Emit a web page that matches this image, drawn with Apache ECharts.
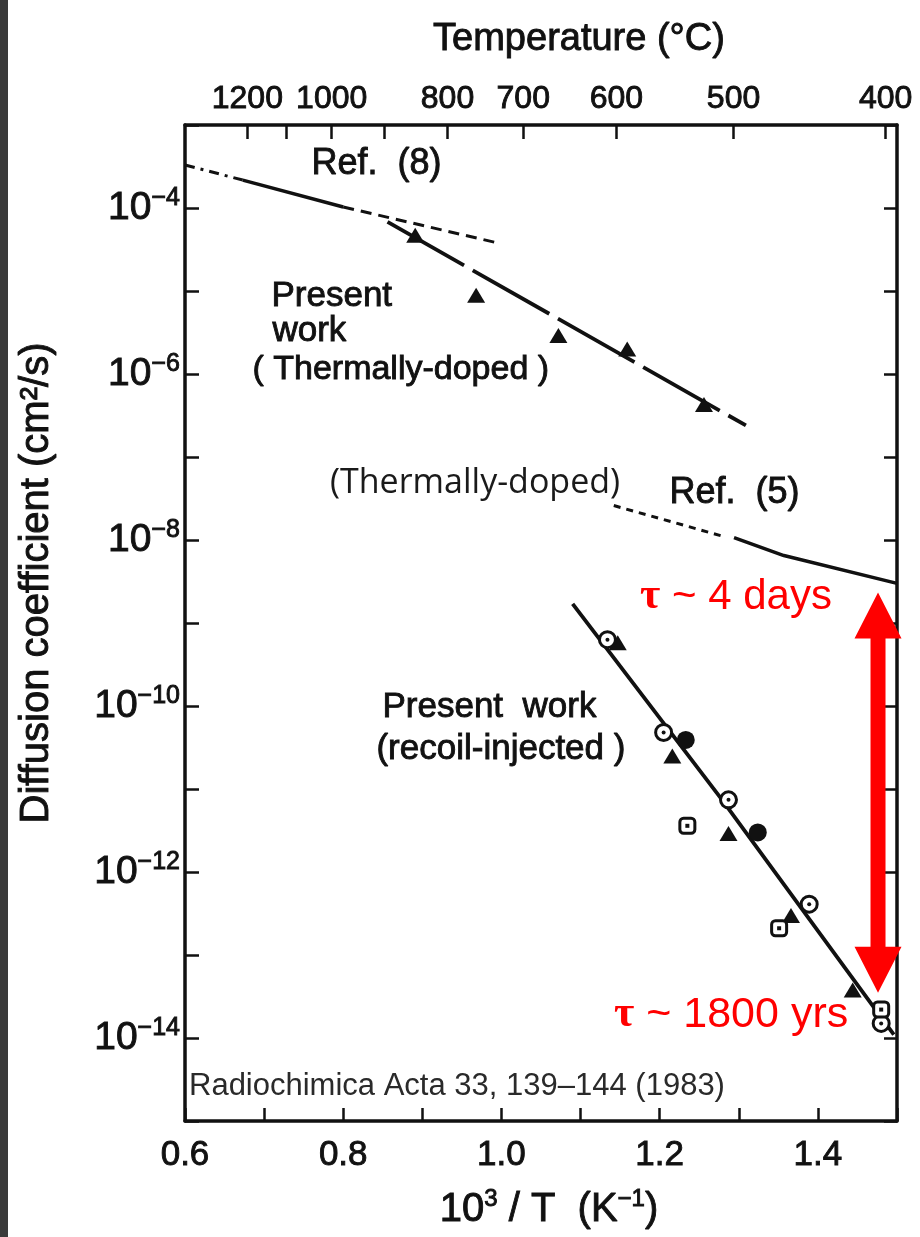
<!DOCTYPE html>
<html>
<head>
<meta charset="utf-8">
<script src="https://cdn.jsdelivr.net/npm/echarts@6/dist/echarts.min.js"></script>
<style>
  html, body { margin: 0; padding: 0; background: #ffffff; }
  #chart { width: 920px; height: 1237px; }
</style>
</head>
<body>
<div id="chart"></div>
<script>
// ---- axis ticks and labels ----
const tempTicks = [1200, 1100, 1000, 900, 800, 700, 600, 500, 400];   // °C, top axis ticks
const tempLabels = [1200, 1000, 800, 700, 600, 500, 400];             // °C, top axis labels
const invTLabels = [0.6, 0.8, 1.0, 1.2, 1.4];                          // 10^3/T labels
const decadeTicks = [1e-15, 1e-14, 1e-13, 1e-12, 1e-11, 1e-10, 1e-9, 1e-8, 1e-7, 1e-6, 1e-5, 1e-4, 1e-3];
const decadeLabels = [1e-14, 1e-12, 1e-10, 1e-8, 1e-6, 1e-4];

// ---- Ref. (8) ----
const ref8DashDot = [[0.600, 3.3e-4], [0.673, 2.17e-4]];
const ref8Solid = [[0.673, 2.17e-4], [0.800, 1.03e-4]];
const ref8Dashed = [[0.800, 1.03e-4], [0.995, 3.8e-5]];

// ---- present work, thermally-doped ----
const thermalLine = [[0.856, 6.8e-5], [1.309, 2.4e-7]];
const thermalPoints = [[0.891, 4.7e-5], [0.968, 8.9e-6], [1.072, 2.9e-6], [1.159, 2.0e-6], [1.256, 4.3e-7]];

// ---- Ref. (5) ----
const ref5Dotted = [[1.142, 2.6e-8], [1.277, 1.13e-8]];
const ref5Solid = [[1.294, 1.07e-8], [1.357, 6.5e-9], [1.500, 3.0e-9]];

// ---- present work, recoil-injected ----
const recoilLine = [[1.090, 1.7e-9], [1.277, 7.8e-12], [1.496, 1.1e-14]];
const recoilCircleDot = [[1.134, 6.3e-10], [1.205, 4.8e-11], [1.287, 7.4e-12], [1.389, 4.1e-13], [1.480, 1.5e-14]];
const recoilFilledCircle = [[1.233, 3.9e-11], [1.324, 3.0e-12]];
const recoilTriangle = [[1.147, 5.8e-10], [1.216, 2.5e-11], [1.287, 2.9e-12], [1.366, 3.0e-13], [1.444, 3.8e-14]];
const recoilSquareDot = [[1.235, 3.6e-12], [1.351, 2.1e-13], [1.480, 2.2e-14]];

// ---- residence-time span (x, upper D, lower D) ----
const tauSpan = [[1.476, 2.33e-9, 3.5e-14]];

const FONT_SANS = '"Liberation Sans", Arial, sans-serif';
const INK = '#111111';
// a thin outline in the ink colour gives the printed lettering its heavier stroke
const HEAVY = { textBorderColor: INK, textBorderWidth: 0.9 };

const toInv = t => 1000 / (t + 273.15);

const chart = echarts.init(document.getElementById('chart'), null, { renderer: 'canvas' });

const lineBase = { type: 'line', symbol: 'none', showSymbol: false, silent: true, z: 2, animation: false };
const markStyle = { color: INK, opacity: 1 };
const noteStyle = (text, size) => Object.assign({ text: text, font: size + 'px ' + FONT_SANS, fill: INK, stroke: INK, lineWidth: 0.9 });

chart.setOption({
  animation: false,
  backgroundColor: '#ffffff',
  textStyle: { fontFamily: FONT_SANS, color: INK },
  grid: { left: 185, right: 23, top: 125, bottom: 116, containLabel: false, outerBoundsMode: 'none' },
  xAxis: [
    {
      type: 'value', position: 'bottom', min: 0.6, max: 1.5, interval: 0.1,
      axisLine: { show: true, onZero: false, lineStyle: { color: INK, width: 3.5 } },
      axisTick: { show: true, inside: true, length: 13, lineStyle: { color: INK, width: 2.5 } },
      axisLabel: Object.assign({
        customValues: invTLabels, margin: 17, hideOverlap: false,
        formatter: v => v.toFixed(1),
        fontFamily: FONT_SANS, fontSize: 35, color: INK
      }, HEAVY),
      splitLine: { show: false },
      name: '{n|10}{s|3}{n| / T  (K}{s|−1}{n|)}',
      nameLocation: 'middle', nameGap: 66, nameMoveOverlap: false,
      nameTextStyle: {
        padding: [0, 0, 0, 16],
        rich: {
          n: Object.assign({ fontFamily: FONT_SANS, fontSize: 40, color: INK, lineHeight: 46 }, HEAVY),
          s: Object.assign({ fontFamily: FONT_SANS, fontSize: 24, color: INK, verticalAlign: 'top' }, HEAVY)
        }
      }
    },
    {
      type: 'value', position: 'top', min: 0.6, max: 1.5,
      axisLine: { show: true, onZero: false, lineStyle: { color: INK, width: 3.5 } },
      axisTick: { show: true, inside: true, length: 14, customValues: tempTicks.map(toInv), lineStyle: { color: INK, width: 2.5 } },
      axisLabel: Object.assign({
        customValues: tempLabels.map(toInv), margin: 10, hideOverlap: false,
        formatter: v => String(Math.round(1000 / v - 273.15)),
        fontFamily: FONT_SANS, fontSize: 32, color: INK
      }, HEAVY),
      splitLine: { show: false },
      name: 'Temperature (°C)',
      nameLocation: 'middle', nameGap: 66, nameMoveOverlap: false,
      nameTextStyle: Object.assign({ fontFamily: FONT_SANS, fontSize: 38, color: INK, padding: [0, 0, 0, 76] }, HEAVY)
    }
  ],
  yAxis: [
    {
      type: 'log', logBase: 10, position: 'left', min: 1e-15, max: 1e-3,
      axisLine: { show: true, onZero: false, lineStyle: { color: INK, width: 3.5 } },
      axisTick: { show: true, inside: true, length: 14, customValues: decadeTicks, lineStyle: { color: INK, width: 2.5 } },
      axisLabel: {
        customValues: decadeLabels, margin: 5, hideOverlap: false,
        formatter: v => '{b|10}{s|−' + Math.round(-Math.log10(v)) + '}',
        rich: {
          b: Object.assign({ fontFamily: FONT_SANS, fontSize: 39, color: INK, lineHeight: 44 }, HEAVY),
          s: Object.assign({ fontFamily: FONT_SANS, fontSize: 25, color: INK, verticalAlign: 'top' }, HEAVY)
        }
      },
      minorTick: { show: false },
      splitLine: { show: false },
      name: 'Diffusion coefficient (cm²/s)',
      nameLocation: 'middle', nameGap: 128, nameRotate: 90, nameMoveOverlap: false,
      nameTextStyle: Object.assign({ fontFamily: FONT_SANS, fontSize: 40, color: INK, padding: [0, 0, 0, 80] }, HEAVY)
    },
    {
      type: 'log', logBase: 10, position: 'right', min: 1e-15, max: 1e-3,
      axisLine: { show: true, onZero: false, lineStyle: { color: INK, width: 3.5 } },
      axisTick: { show: true, inside: true, length: 13, customValues: decadeTicks, lineStyle: { color: INK, width: 2.5 } },
      axisLabel: { show: false },
      minorTick: { show: false },
      splitLine: { show: false }
    }
  ],
  series: [
    // Ref. (8)
    Object.assign({}, lineBase, { name: 'Ref. (8) a', data: ref8DashDot, lineStyle: { color: INK, width: 3, type: [10, 6, 3, 6] } }),
    Object.assign({}, lineBase, { name: 'Ref. (8) b', data: ref8Solid, lineStyle: { color: INK, width: 3.5, type: 'solid' } }),
    Object.assign({}, lineBase, { name: 'Ref. (8) c', data: ref8Dashed, lineStyle: { color: INK, width: 3, type: [11, 7] } }),
    // thermally-doped
    Object.assign({}, lineBase, { name: 'Thermally-doped fit', data: thermalLine, lineStyle: { color: INK, width: 3.8, type: [88, 10] } }),
    {
      type: 'scatter', name: 'Thermally-doped', data: thermalPoints, symbol: 'triangle', symbolSize: [18, 15],
      itemStyle: markStyle, z: 4, silent: true
    },
    // Ref. (5)
    Object.assign({}, lineBase, { name: 'Ref. (5) a', data: ref5Dotted, lineStyle: { color: INK, width: 3, type: [7, 6] } }),
    Object.assign({}, lineBase, { name: 'Ref. (5) b', data: ref5Solid, lineStyle: { color: INK, width: 3.5, type: 'solid' } }),
    // recoil-injected
    Object.assign({}, lineBase, { name: 'Recoil-injected fit', data: recoilLine, lineStyle: { color: INK, width: 3.8, type: 'solid' } }),
    {
      type: 'scatter', name: 'Recoil triangles', data: recoilTriangle, symbol: 'triangle', symbolSize: [18, 15],
      itemStyle: markStyle, z: 4, silent: true
    },
    {
      type: 'scatter', name: 'Recoil filled circles', data: recoilFilledCircle, symbol: 'circle', symbolSize: 18,
      itemStyle: markStyle, z: 4, silent: true
    },
    {
      type: 'scatter', name: 'Recoil circles', data: recoilCircleDot, symbol: 'circle', symbolSize: 16,
      itemStyle: { color: '#ffffff', borderColor: INK, borderWidth: 3, opacity: 1 }, z: 5, silent: true
    },
    {
      type: 'scatter', name: 'Recoil circle centres', data: recoilCircleDot, symbol: 'circle', symbolSize: 4,
      itemStyle: markStyle, z: 6, silent: true
    },
    {
      type: 'scatter', name: 'Recoil squares', data: recoilSquareDot, symbol: 'roundRect', symbolSize: 15,
      itemStyle: { color: '#ffffff', borderColor: INK, borderWidth: 3, opacity: 1 }, z: 5, silent: true
    },
    {
      type: 'scatter', name: 'Recoil square centres', data: recoilSquareDot, symbol: 'rect', symbolSize: 4,
      itemStyle: markStyle, z: 6, silent: true
    },
    // residence-time double arrow
    {
      type: 'custom', name: 'tau span', data: tauSpan, z: 7, silent: true, clip: false,
      encode: { x: 0, y: [1, 2] },
      renderItem: function (params, api) {
        const top = api.coord([api.value(0), api.value(1)]);
        const bot = api.coord([api.value(0), api.value(2)]);
        const x = top[0];
        const shaft = 7.5, head = 23.5, headLen = 46;
        const pts = [
          [x, top[1]], [x + head, top[1] + headLen], [x + shaft, top[1] + headLen],
          [x + shaft, bot[1] - headLen], [x + head, bot[1] - headLen], [x, bot[1]],
          [x - head, bot[1] - headLen], [x - shaft, bot[1] - headLen],
          [x - shaft, top[1] + headLen], [x - head, top[1] + headLen]
        ];
        return { type: 'polygon', shape: { points: pts }, style: { fill: '#ff0000' } };
      }
    }
  ],
  graphic: [
    // scanner edge
    { type: 'rect', left: 0, top: 0, shape: { width: 8, height: 1237 }, style: { fill: '#3a3a3a' }, z: 100 },
    // curve annotations
    { type: 'text', left: 311, top: 146, style: noteStyle('Ref.  (8)', 36) },
    { type: 'text', left: 271, top: 278, style: noteStyle('Present', 35) },
    { type: 'text', left: 272, top: 313, style: noteStyle('work', 35) },
    { type: 'text', left: 252, top: 352, style: noteStyle('( Thermally-doped )', 34) },
    { type: 'text', left: 330, top: 466, style: { text: '(Thermally-doped)', font: '34px "Open Sans", "Noto Sans", sans-serif', fill: '#1a1a1a' } },
    { type: 'text', left: 669, top: 475, style: noteStyle('Ref.  (5)', 36) },
    { type: 'text', left: 382, top: 689, style: noteStyle('Present  work', 35) },
    { type: 'text', left: 376, top: 731, style: noteStyle('(recoil-injected )', 35) },
    // residence times
    {
      type: 'text', left: 640, top: 575, z: 10,
      style: {
        text: '{t|τ}{r| ~ 4 days}',
        rich: {
          t: { font: 'bold 44px "Liberation Serif", serif', fill: '#ff0000' },
          r: { font: '42px ' + FONT_SANS, fill: '#ff0000' }
        }
      }
    },
    {
      type: 'text', left: 614, top: 993, z: 10,
      style: {
        text: '{t|τ}{r| ~ 1800 yrs}',
        rich: {
          t: { font: 'bold 44px "Liberation Serif", serif', fill: '#ff0000' },
          r: { font: '43px ' + FONT_SANS, fill: '#ff0000' }
        }
      }
    },
    // source
    { type: 'text', left: 189, top: 1071, style: { text: 'Radiochimica Acta 33, 139–144 (1983)', font: '31px ' + FONT_SANS, fill: '#2a2a2a' } }
  ]
});
</script>
</body>
</html>
